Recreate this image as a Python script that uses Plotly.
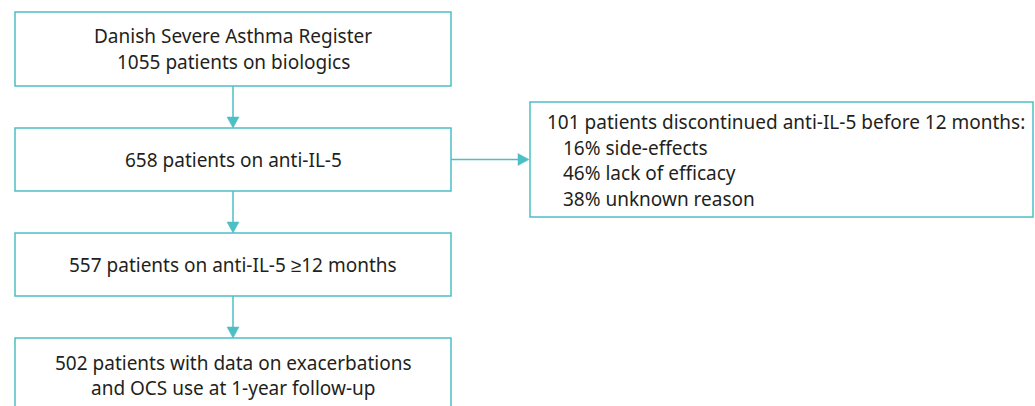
import plotly.graph_objects as go

# Flowchart content
main_boxes = [
    ["Danish Severe Asthma Register", "1055 patients on biologics"],
    ["658 patients on anti-IL-5"],
    ["557 patients on anti-IL-5 \u226512 months"],
    ["502 patients with data on exacerbations", "and OCS use at 1-year follow-up"],
]
side_title = "101 patients discontinued anti-IL-5 before 12 months:"
side_items = ["16% side-effects", "46% lack of efficacy", "38% unknown reason"]

# Layout geometry (pixels, y downward)
W, H = 1035, 406
main_x0, main_x1 = 15, 451
main_y = [(12, 86), (128, 191), (233, 296), (338, 420)]
side_box = (530, 1033, 102, 217)

TEAL = "#4CBFC5"
TXT = "#231F20"
FONT = "Noto Sans, sans-serif"
FS = 19
LH = 25.5

fig = go.Figure()
shapes = []
annotations = []

for (y0, y1), lines in zip(main_y, main_boxes):
    shapes.append(dict(type="rect", x0=main_x0, x1=main_x1, y0=y0, y1=y1,
                       line=dict(color=TEAL, width=1.5), fillcolor="white", layer="below"))
    yc = (y0 + y1) / 2
    if y1 > H:
        yc = y0 + 37.25
    n = len(lines)
    for i, t in enumerate(lines):
        yy = yc + (i - (n - 1) / 2) * LH
        annotations.append(dict(x=(main_x0 + main_x1) / 2, y=yy, text=t, showarrow=False,
                                xanchor="center", yanchor="middle",
                                font=dict(family=FONT, size=FS, color=TXT)))

# vertical arrows
cx = 233
for i in range(len(main_y) - 1):
    ya = main_y[i][1]
    yb = main_y[i + 1][0]
    shapes.append(dict(type="line", x0=cx, x1=cx, y0=ya, y1=yb - 10,
                       line=dict(color=TEAL, width=1.5)))
    shapes.append(dict(type="path",
                       path=f"M {cx-6},{yb-11} L {cx+6},{yb-11} L {cx},{yb} Z",
                       fillcolor=TEAL, line=dict(color=TEAL, width=0.5)))

# horizontal arrow to side box
sx0, sx1, sy0, sy1 = side_box
ay = (main_y[1][0] + main_y[1][1]) / 2
shapes.append(dict(type="line", x0=main_x1, x1=sx0 - 11, y0=ay, y1=ay,
                   line=dict(color=TEAL, width=1.5)))
shapes.append(dict(type="path",
                   path=f"M {sx0-12},{ay-6} L {sx0-12},{ay+6} L {sx0-1},{ay} Z",
                   fillcolor=TEAL, line=dict(color=TEAL, width=0.5)))
shapes.append(dict(type="rect", x0=sx0, x1=sx1, y0=sy0, y1=sy1,
                   line=dict(color=TEAL, width=1.5), fillcolor="white", layer="below"))

side_lines = [side_title] + side_items
for i, t in enumerate(side_lines):
    annotations.append(dict(x=545 if i == 0 else 561, y=122 + i * LH, text=t, showarrow=False,
                            xanchor="left", yanchor="middle", align="left",
                            font=dict(family=FONT, size=FS, color=TXT)))

fig.update_layout(
    width=W, height=H,
    margin=dict(l=0, r=0, t=0, b=0),
    paper_bgcolor="white", plot_bgcolor="white",
    xaxis=dict(range=[0, W], visible=False, fixedrange=True),
    yaxis=dict(range=[H, 0], visible=False, fixedrange=True),
    shapes=shapes, annotations=annotations,
    showlegend=False,
)
fig.write_html("out.html", config={"displayModeBar": False},
               post_script="document.body.style.margin='0';document.body.style.padding='0';")
